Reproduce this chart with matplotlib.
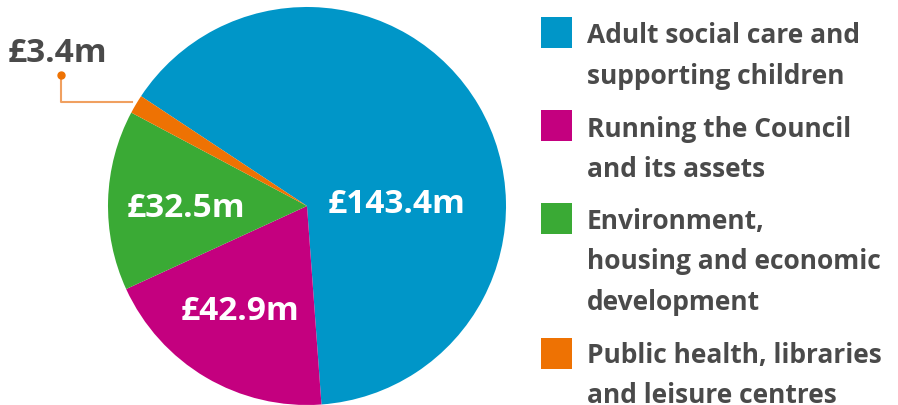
import matplotlib.pyplot as plt
from matplotlib.patches import Rectangle

values = [143.4, 42.9, 32.5, 3.4]
labels = ["£143.4m", "£42.9m", "£32.5m", "£3.4m"]
legend_lines = [
    ["Adult social care and", "supporting children"],
    ["Running the Council", "and its assets"],
    ["Environment,", "housing and economic", "development"],
    ["Public health, libraries", "and leisure centres"],
]
colors = ["#0096c8", "#c4007f", "#3aaa35", "#ee7203"]
grey = "#4a4a4a"

plt.rcParams['font.family'] = ['Open Sans', 'DejaVu Sans']

fig = plt.figure(figsize=(8.98, 4.06), dpi=100)
ax = fig.add_axes([0, 0, 1, 1])

cx, cy, r = 307, 207, 199
start = 146.5
# y axis points down (pixel frame), so counterclock=True turns clockwise on screen
ax.pie(values, colors=colors, startangle=-start, counterclock=True,
       center=(cx, cy), radius=r, frame=True,
       wedgeprops=dict(linewidth=0))
ax.set_xlim(0, 898)
ax.set_ylim(406, 0)
ax.set_aspect("equal")
ax.axis("off")

# labels inside the slices
ax.text(397, 205, labels[0], color="white", fontsize=24, fontweight="bold",
        ha="center", va="center")
ax.text(240, 312, labels[1], color="white", fontsize=24, fontweight="bold",
        ha="center", va="center")
ax.text(186, 209, labels[2], color="white", fontsize=24, fontweight="bold",
        ha="center", va="center")
ax.text(57, 54, labels[3], color=grey, fontsize=24, fontweight="bold",
        ha="center", va="center")

# leader line for the small slice
ax.plot([61, 61, 132], [76, 103, 103], color="#f0a060", lw=1.5)
ax.plot([61], [76], "o", color=colors[3], ms=5)

# legend
sq_top = [18, 111, 204, 339]
first_base = [43, 137, 229, 363]
for i in range(4):
    ax.add_patch(Rectangle((541, sq_top[i]), 31, 31, color=colors[i], lw=0))
    for j, line in enumerate(legend_lines[i]):
        ax.text(587, first_base[i] + j * 40.5, line, color=grey, fontsize=19,
                fontweight="bold", ha="left", va="baseline")

fig.savefig("out.png", dpi=100)
